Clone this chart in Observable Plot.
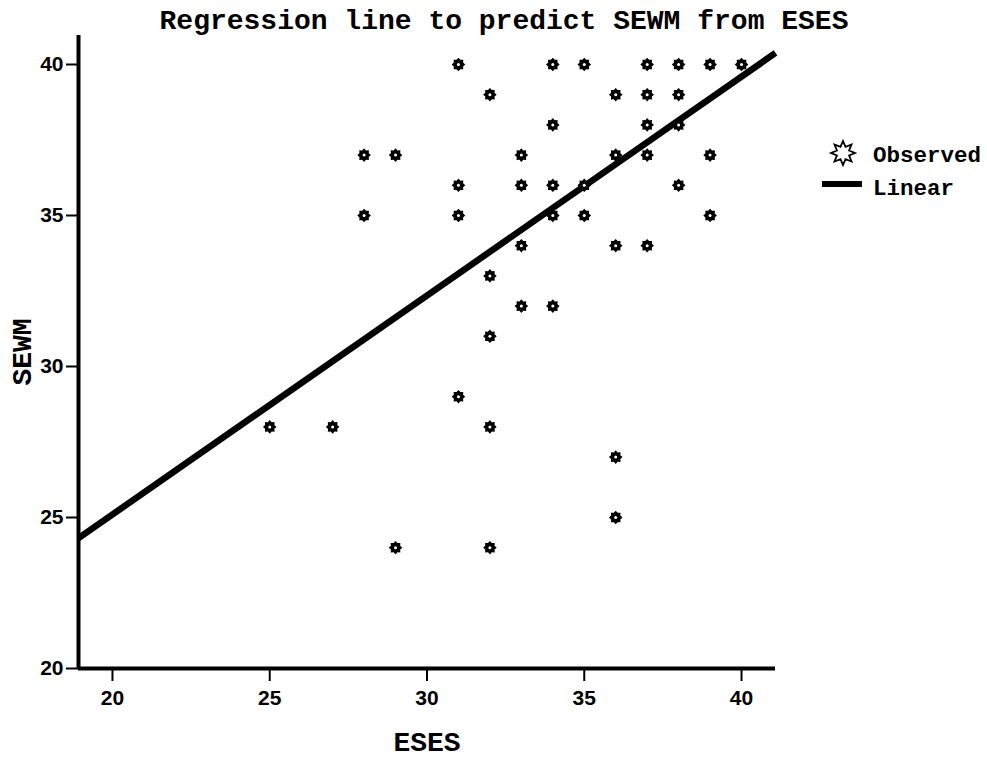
<!DOCTYPE html>
<html>
<head>
<meta charset="utf-8">
<script src="https://cdn.jsdelivr.net/npm/d3@7"></script>
<script src="https://cdn.jsdelivr.net/npm/@observablehq/plot@0.6"></script>
<style>
  html, body { margin: 0; padding: 0; background: #fff; }
  #chart svg { display: block; overflow: visible; }
</style>
</head>
<body>
<div id="chart"></div>
<script>
// ---- data ----
const titleText = "Regression line to predict SEWM from ESES";
const xLabel = "ESES";
const yLabel = "SEWM";
const legendLabels = ["Observed", "Linear"];

const eses = [31,34,35,37,38,39,40, 32,36,37,38, 34,37,38, 28,29,33,36,37,39,
              31,33,34,35,38, 28,31,34,35,39, 33,36,37, 32, 33,34, 32, 31,
              25,27,32, 36, 36, 29,32];
const sewm = [40,40,40,40,40,40,40, 39,39,39,39, 38,38,38, 37,37,37,37,37,37,
              36,36,36,36,36, 35,35,35,35,35, 34,34,34, 33, 32,32, 31, 29,
              28,28,28, 27, 25, 24,24];

const xTicks = [20, 25, 30, 35, 40];
const yTicks = [20, 25, 30, 35, 40];

// regression line: SEWM = intercept + slope * ESES
const regIntercept = 10.6;
const regSlope = 0.725;

const xDomain = [18.92, 41.08];
const yDomain = [20, 40.96];

// ---- derived tables ----
const points = eses.map((x, i) => ({x, y: sewm[i]}));
const regLine = xDomain.map(x => ({x, y: regIntercept + regSlope * x}));

// n-pointed star symbol
function starSymbol(n, ratio) {
  return {
    draw(ctx, size) {
      const R = Math.sqrt(size / Math.PI);
      const r = R * ratio;
      for (let i = 0; i < 2 * n; i++) {
        const a = i * Math.PI / n - Math.PI / 2;
        const rad = i % 2 === 0 ? R : r;
        const px = rad * Math.cos(a), py = rad * Math.sin(a);
        if (i === 0) ctx.moveTo(px, py); else ctx.lineTo(px, py);
      }
      ctx.closePath();
    }
  };
}
const gear = starSymbol(8, 0.74);

const mono = "'Liberation Mono', 'Courier New', monospace";
const sans = "'Liberation Sans', Arial, sans-serif";

const chart = Plot.plot({
  width: 987,
  height: 761,
  marginLeft: 78,
  marginRight: 212,
  marginTop: 35,
  marginBottom: 93,
  style: {fontFamily: sans, fontSize: "21px", fontWeight: "bold", color: "#000", background: "#fff"},
  x: {domain: xDomain, ticks: xTicks, label: null},
  y: {domain: yDomain, ticks: yTicks, label: null},
  marks: [
    Plot.axisX({ticks: xTicks, tickSize: 13, tickPadding: 9, strokeWidth: 2, fontSize: 21, fontWeight: "bold", fontFamily: sans, label: null}),
    Plot.axisY({ticks: yTicks, tickSize: 12, tickPadding: 3, strokeWidth: 2, fontSize: 21, fontWeight: "bold", fontFamily: sans, label: null}),
    Plot.ruleY([yDomain[0]], {stroke: "#000", strokeWidth: 4}),
    Plot.ruleX([xDomain[0]], {stroke: "#000", strokeWidth: 4}),
    Plot.line(regLine, {x: "x", y: "y", stroke: "#000", strokeWidth: 6.5, strokeLinecap: "butt"}),
    Plot.dot(points, {x: "x", y: "y", symbol: gear, r: 6.8, fill: "#000", stroke: "none"}),
    Plot.dot(points, {x: "x", y: "y", r: 1.5, fill: "#fff", stroke: "none"}),
    Plot.text([xLabel], {text: d => d, frameAnchor: "bottom", textAnchor: "middle", lineAnchor: "middle", dy: 74, fill: "#000", ariaLabel: "axis-title"}),
    Plot.text([yLabel], {text: d => d, frameAnchor: "left", textAnchor: "middle", lineAnchor: "middle", dx: -56, rotate: -90, fill: "#000", ariaLabel: "axis-title"})
  ]
});

const svg = d3.select(chart);
svg.selectAll("g[aria-label='axis-title'], g[aria-label='axis-title'] text, g[aria-label='text'], g[aria-label='text'] text")
  .style("font-family", mono).style("font-size", "28px").style("font-weight", "bold");

// title
svg.append("text")
  .attr("x", 504).attr("y", 29)
  .attr("text-anchor", "middle")
  .style("font-family", mono).style("font-size", "28px").style("font-weight", "bold")
  .attr("fill", "#000")
  .text(titleText);

// legend
const lg = svg.append("g").attr("text-anchor", "start");
const legendStar = d3.symbol().type(starSymbol(8, 0.55)).size(Math.PI * 12 * 12);
lg.append("path").attr("d", legendStar()).attr("transform", "translate(843,153)")
  .attr("fill", "#fff").attr("stroke", "#000").attr("stroke-width", 1.8);
lg.append("text").attr("x", 873).attr("y", 162).attr("text-anchor", "start")
  .style("font-family", mono).style("font-size", "22.5px").style("font-weight", "bold").attr("fill", "#000")
  .text(legendLabels[0]);
lg.append("line").attr("x1", 822).attr("x2", 862).attr("y1", 184).attr("y2", 184)
  .attr("stroke", "#000").attr("stroke-width", 6);
lg.append("text").attr("x", 873).attr("y", 195).attr("text-anchor", "start")
  .style("font-family", mono).style("font-size", "22.5px").style("font-weight", "bold").attr("fill", "#000")
  .text(legendLabels[1]);

document.getElementById("chart").appendChild(chart);
</script>
</body>
</html>
